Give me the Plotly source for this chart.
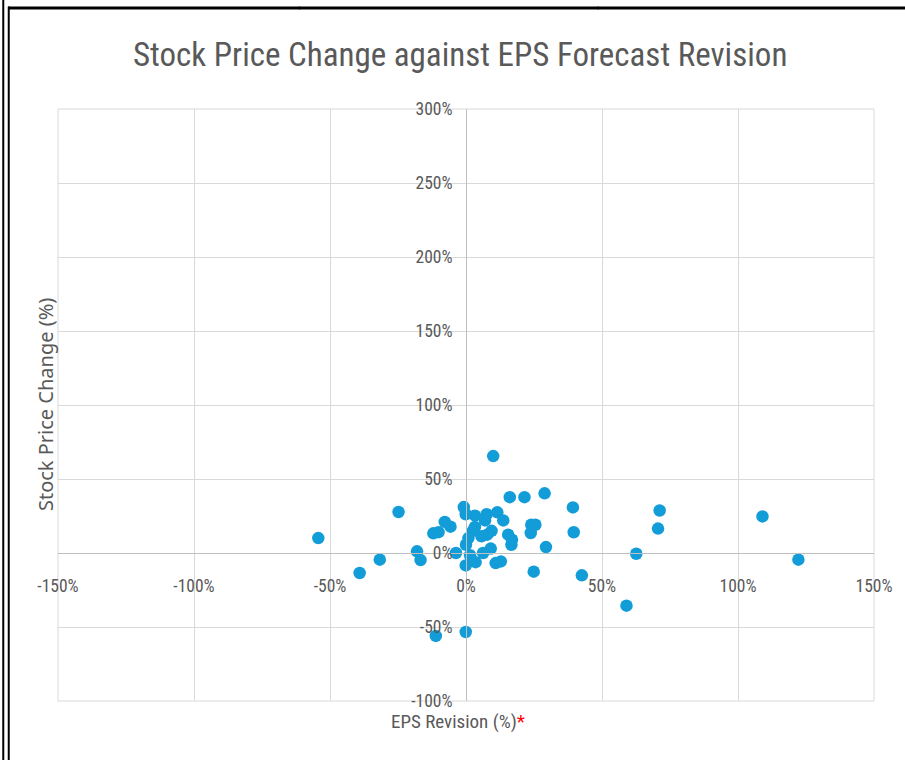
import plotly.graph_objects as go

# EPS revision (%) and stock price change (%)
eps_revision = [
    -54.3, -39.1, -31.7, -24.8, -18.0, -16.7, -12.0, -10.1, -7.8, -5.7,
    -3.7, -0.8, -0.1, 3.3, 7.6, 11.5, 13.7, 3.3, 2.5, 7.0,
    9.4, 5.7, 7.8, 0.9, 0.0, 15.5, 16.7, 16.9, 16.1, 21.5,
    28.9, 24.0, 25.5, 23.8, 29.4, 24.9, 39.3, 39.6, 42.6, 59.0,
    62.6, 71.2, 70.6, 109.0, 122.2, 1.5, -0.1, 3.5, 6.3, 9.1,
    10.9, 12.8, 10.0, -11.1, -0.1,
]
price_change = [
    10.1, -13.5, -4.5, 27.7, 1.1, -4.8, 13.3, 14.1, 21.0, 17.8,
    0.0, 31.0, 26.2, 25.2, 26.2, 27.5, 22.0, 17.6, 15.0, 22.0,
    15.0, 11.3, 12.4, 10.1, 5.6, 12.4, 5.6, 9.0, 37.7, 37.7,
    40.3, 19.1, 19.1, 13.5, 4.0, -12.6, 30.8, 14.0, -15.1, -35.6,
    -0.5, 28.7, 16.5, 24.7, -4.5, -1.5, -8.4, -6.2, 0.0, 3.0,
    -6.8, -5.7, 65.5, -56.0, -53.4,
]

x_ticks = [-150, -100, -50, 0, 50, 100, 150]
x_tick_labels = ["-150%", "-100%", "-50%", "0%", "50%", "100%", "150%"]
y_ticks = [-100, -50, 0, 50, 100, 150, 200, 250, 300]
y_tick_labels = ["-100%", "-50%", "0%", "50%", "100%", "150%", "200%", "250%", "300%"]

title_text = "Stock Price Change against EPS Forecast Revision"
x_title = 'EPS Revision (%)<span style="color:#ff0000">*</span>'
y_title = "Stock Price Change (%)"

W, H = 905, 760
L, R, T, B = 58, 878, 109, 701

def px(x):
    return (x - L) / (R - L)

def py(y):
    return (B - y) / (B - T)

narrow = "Liberation Sans Narrow, Arial Narrow, Roboto Condensed, sans-serif"
grey = "#595959"

fig = go.Figure()
fig.add_trace(go.Scatter(
    x=eps_revision, y=price_change, mode="markers",
    marker=dict(size=12.5, color="#129dd8", line=dict(width=0)),
    showlegend=False, hoverinfo="x+y",
))

# top rule of the page frame, drawn in three joined pieces
top_rule = [
    dict(type="rect", xref="paper", yref="paper", x0=px(a), x1=px(b),
         y0=py(9.5), y1=py(6.5), fillcolor="black", line=dict(width=0))
    for a, b in [(8, 301), (300, 601), (600, W + 5)]
]

fig.update_layout(
    width=W, height=H,
    margin=dict(l=L, r=W - R, t=T, b=H - B),
    paper_bgcolor="white", plot_bgcolor="white",
    font=dict(family=narrow, color=grey, size=14),
    xaxis=dict(
        range=[-150, 150], tickvals=x_ticks, ticktext=x_tick_labels,
        showgrid=True, gridcolor="#d9d9d9", gridwidth=1, zeroline=False,
        showline=True, linecolor="#bfbfbf", linewidth=1,
        anchor="free", position=0.25, ticks="", ticklabelstandoff=17,
        tickfont=dict(family=narrow, size=17.5, color=grey),
    ),
    yaxis=dict(
        range=[-100, 300], tickvals=y_ticks, ticktext=y_tick_labels,
        showgrid=True, gridcolor="#d9d9d9", gridwidth=1, zeroline=False,
        showline=True, linecolor="#bfbfbf", linewidth=1,
        anchor="free", position=0.5, ticks="", ticklabelstandoff=10,
        tickfont=dict(family=narrow, size=17.5, color=grey),
    ),
    annotations=[
        dict(text=title_text, xref="paper", yref="paper", x=px(462), y=py(55),
             showarrow=False, xanchor="center", yanchor="middle",
             font=dict(family=narrow, size=33, color=grey)),
        dict(text=x_title, xref="paper", yref="paper", x=px(460), y=py(721),
             showarrow=False, xanchor="center", yanchor="middle",
             font=dict(family=narrow, size=19, color=grey)),
        dict(text=y_title, xref="paper", yref="paper", x=px(45), y=py(405),
             showarrow=False, xanchor="center", yanchor="middle", textangle=-90,
             font=dict(family="Noto Sans", size=20, color=grey)),
    ],
    shapes=[
        dict(type="rect", xref="paper", yref="paper", x0=0, x1=1, y0=0, y1=1,
             line=dict(color="#d9d9d9", width=1), layer="below"),
        dict(type="rect", xref="paper", yref="paper", x0=px(2), x1=px(4),
             y0=py(H + 5), y1=py(0), fillcolor="black", line=dict(width=0)),
        dict(type="rect", xref="paper", yref="paper", x0=px(7.5), x1=px(9.5),
             y0=py(H + 5), y1=py(6.5), fillcolor="black", line=dict(width=0)),
    ] + top_rule,
)

fig.write_html("out.html", config={"displayModeBar": False},
               post_script="document.body.style.margin='0';")
